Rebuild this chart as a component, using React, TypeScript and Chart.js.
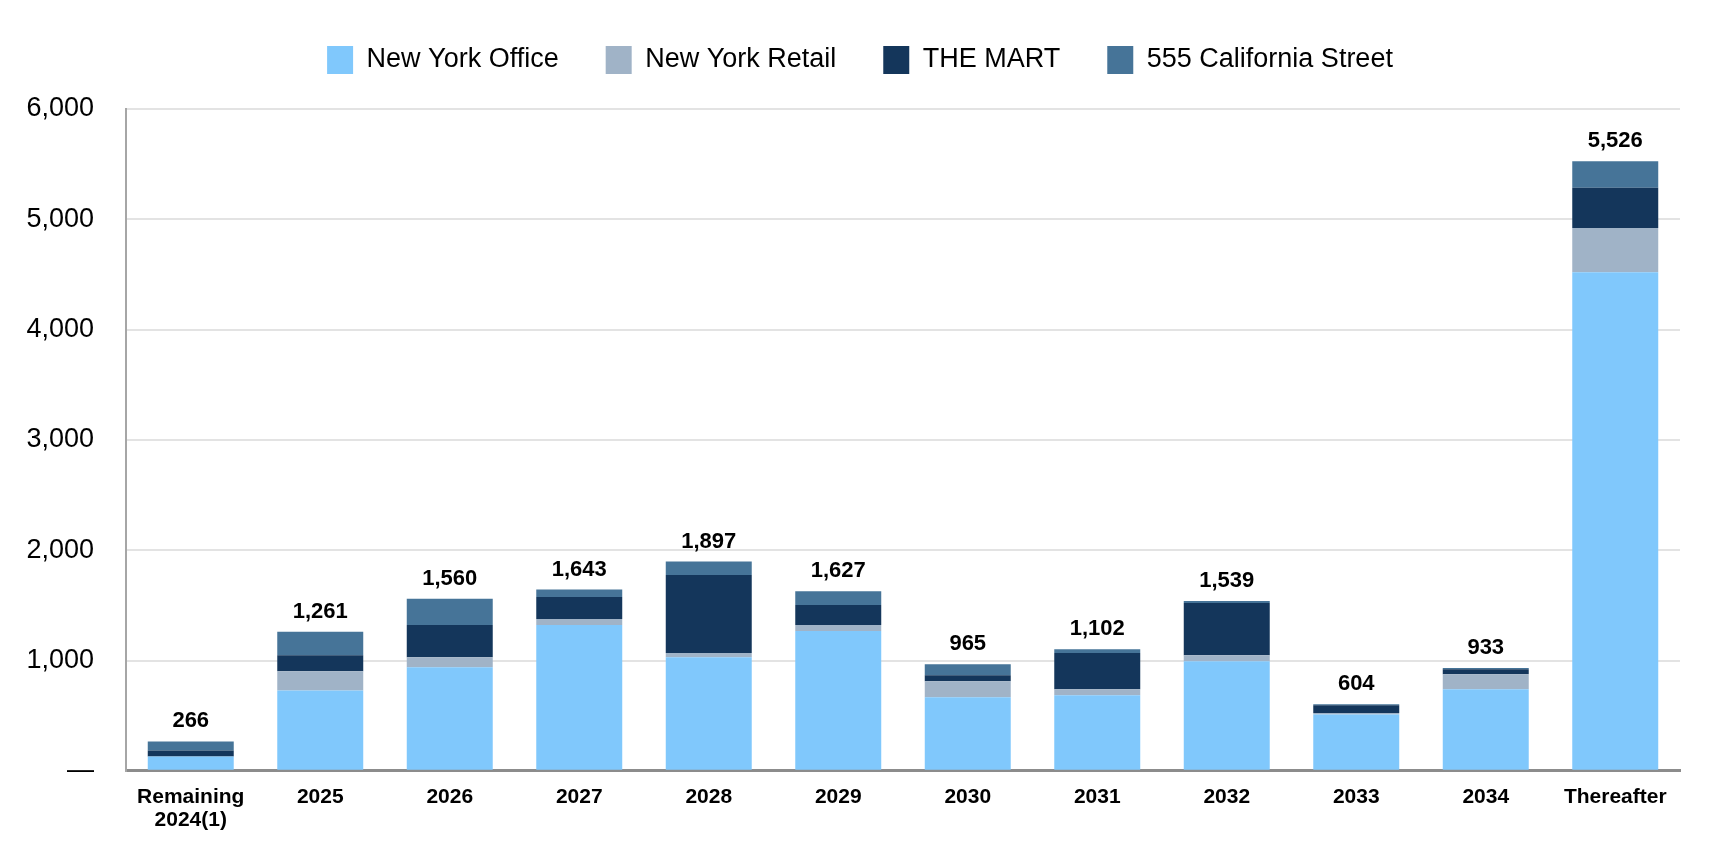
import React, { useEffect, useRef } from "react";
import { Chart, registerables } from "chart.js";

Chart.register(...registerables);

const categories: (string | string[])[] = [
  ["Remaining", "2024(1)"], "2025", "2026", "2027", "2028", "2029", "2030", "2031", "2032", "2033", "2034", "Thereafter",
];
const newYorkOffice = [130, 727, 939, 1321, 1030, 1267, 667, 685, 994, 510, 739, 4521];
const newYorkRetail = [0, 176, 91, 55, 37, 54, 145, 54, 54, 15, 137, 400];
const theMart = [55, 145, 291, 200, 709, 182, 55, 328, 473, 70, 45, 364];
const california555 = [81, 213, 239, 67, 121, 124, 98, 35, 18, 9, 12, 241];
const yTicks = [0, 1000, 2000, 3000, 4000, 5000, 6000];

const FONT = '"Liberation Sans", Arial, Helvetica, sans-serif';

export default function App() {
  const ref = useRef<HTMLCanvasElement | null>(null);

  useEffect(() => {
    const canvas = ref.current;
    if (!canvas) return;
    const totals = categories.map(
      (_, i) => newYorkOffice[i] + newYorkRetail[i] + theMart[i] + california555[i]
    );

    const totalsPlugin = {
      id: "totals",
      afterDatasetsDraw(chart: any) {
        const ctx = chart.ctx;
        const metas = chart.data.datasets.map((_: any, d: number) => chart.getDatasetMeta(d));
        ctx.save();
        ctx.font = `bold 22px ${FONT}`;
        ctx.fillStyle = "#000";
        ctx.textAlign = "center";
        ctx.textBaseline = "alphabetic";
        totals.forEach((t, i) => {
          let top = Infinity;
          let x = 0;
          metas.forEach((m: any) => {
            const el = m.data[i];
            if (el && el.y < top) {
              top = el.y;
              x = el.x;
            }
          });
          ctx.fillText(t.toLocaleString("en-US"), x, top - 14);
        });
        ctx.restore();
      },
    };

    const legendHeightPlugin = {
      id: "legendHeight",
      beforeInit(chart: any) {
        const legend = chart.legend;
        if (!legend) return;
        const origFit = legend.fit;
        legend.fit = function () {
          origFit.call(this);
          this.height = 109;
        };
        const origDraw = legend.draw;
        legend.draw = function () {
          const ctx = this.ctx;
          ctx.save();
          ctx.translate(20, -1);
          origDraw.call(this);
          ctx.restore();
        };
      },
    };

    const chart = new Chart(canvas, {
      type: "bar",
      data: {
        labels: categories as any,
        datasets: [
          { label: "New York Office", data: newYorkOffice, backgroundColor: "#80C8FC" },
          { label: "New York Retail", data: newYorkRetail, backgroundColor: "#A0B3C7" },
          { label: "THE MART", data: theMart, backgroundColor: "#14365B" },
          { label: "555 California Street", data: california555, backgroundColor: "#467498" },
        ],
      },
      options: {
        responsive: false,
        animation: false,
        maintainAspectRatio: false,
        layout: { padding: { top: 0, left: 0, right: 30, bottom: 3 } },
        datasets: {
          bar: { barPercentage: 0.664, categoryPercentage: 1, borderWidth: 0 },
        } as any,
        plugins: {
          legend: {
            position: "top",
            align: "center",
            labels: {
              boxWidth: 26,
              boxHeight: 28,
              padding: 47,
              color: "#000",
              font: { family: FONT, size: 27 },
            },
          },
          tooltip: { enabled: false },
        },
        scales: {
          x: {
            stacked: true,
            grid: { display: false, drawTicks: false },
            border: { display: true, color: "#8c8c8c", width: 3 },
            ticks: {
              color: "#000",
              padding: 15,
              maxRotation: 0,
              autoSkip: false,
              font: { family: FONT, size: 21, weight: "bold", lineHeight: 1.1 },
            },
          },
          y: {
            stacked: true,
            min: 0,
            max: 6000,
            afterFit(scale: any) {
              scale.width = 126;
            },
            afterBuildTicks(scale: any) {
              scale.ticks = yTicks.map((v) => ({ value: v }));
            },
            grid: { color: "#e3e3e3", lineWidth: 2, drawTicks: false },
            border: { display: true, color: "#a6a6a6", width: 2 },
            ticks: {
              color: "#000",
              padding: 32,
              font: { family: FONT, size: 27 },
              callback: (v: any) => (Number(v) === 0 ? "—" : Number(v).toLocaleString("en-US")),
            },
          },
        },
      },
      plugins: [totalsPlugin, legendHeightPlugin],
    });

    return () => chart.destroy();
  }, []);

  return (
    <div style={{ position: "fixed", left: 0, top: 0, width: 1710, height: 850, background: "#fff" }}>
      <canvas ref={ref} width={1710} height={850} />
    </div>
  );
}
